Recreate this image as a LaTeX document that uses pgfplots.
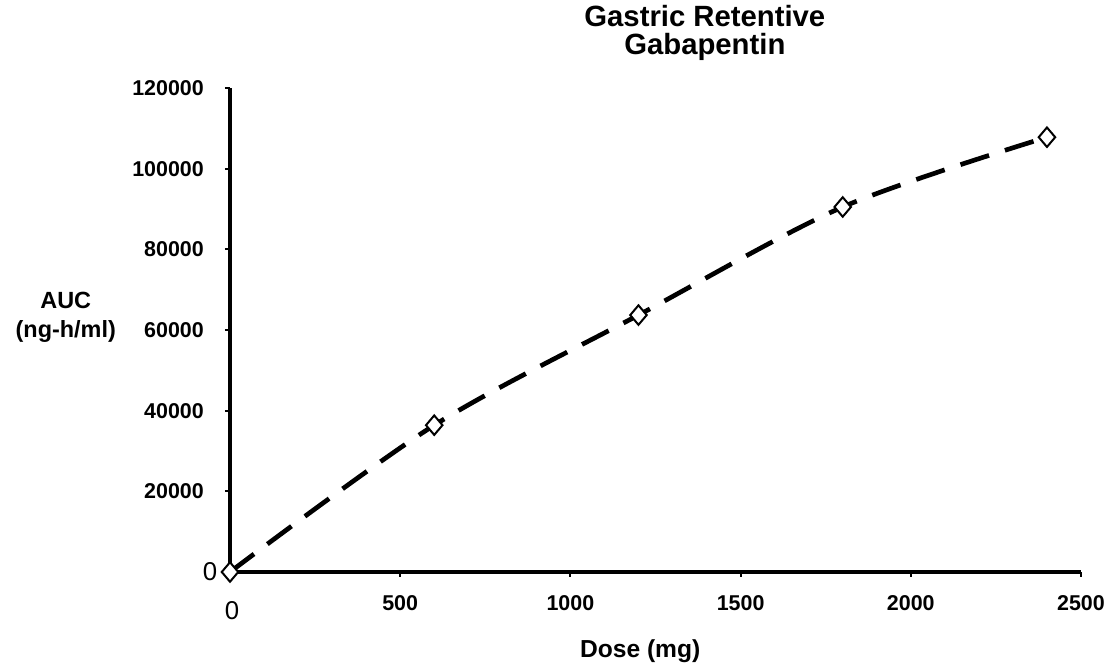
\documentclass[border=0pt]{standalone}
\usepackage{fontspec}
\setmainfont{Liberation Sans}
\usepackage{pgfplots}
\pgfplotsset{compat=1.18}
\begin{document}
\begin{tikzpicture}[x=1cm,y=1cm]
\path[use as bounding box] (-6.9,-2.82) rectangle (26.34,17.16);
\begin{axis}[
  at={(0,0)}, anchor=south west, scale only axis,
  width=25.53cm, height=14.52cm,
  xmin=0, xmax=2500, ymin=0, ymax=120000,
  axis x line=bottom, axis y line=left,
  axis line style={-, line width=1mm},
  xtick={500,1000,1500,2000,2500},
  ytick={20000,40000,60000,80000,100000,120000},
  extra x ticks={0}, extra y ticks={0},
  scaled ticks=false,
  /pgf/number format/.cd, fixed, precision=0, 1000 sep={}, assume math mode=true, /pgfplots/.cd,
  tick label style={font=\bfseries\fontsize{18.3}{20}\selectfont},
  tick align=outside, major tick length=1.5mm,
  tick style={line width=0.6mm, black},
  xticklabel style={yshift=-4.2mm},
  yticklabel style={xshift=-5.1mm},
  extra x tick style={xticklabel style={font=\mdseries\fontsize{22}{24}\selectfont, yshift=-2mm, xshift=0.6mm}},
  extra y tick style={yticklabel style={font=\mdseries\fontsize{22}{24}\selectfont, xshift=4mm}},
  title={Gastric Retentive\\Gabapentin},
  title style={at={(axis description cs:0.558,1.10)}, anchor=center, align=center,
    font=\bfseries\fontsize{25}{24}\selectfont},
  xlabel={Dose (mg)},
  xlabel style={at={(axis description cs:0.482,-0.163)}, anchor=center,
    font=\bfseries\fontsize{21}{24}\selectfont},
  ylabel={AUC\\(ng-h/ml)},
  ylabel style={at={(axis description cs:-0.193,0.527)}, anchor=center, rotate=-90,
    align=center, font=\bfseries\fontsize{20}{24.7}\selectfont},
  clip=false,
]
\addplot[black, line width=1.4mm, dash pattern=on 9mm off 5mm, smooth,
  mark=square*, mark size=1.75mm,
  mark options={solid, fill=white, draw=black, line width=0.6mm, yscale=1.18, rotate=45}]
  coordinates {(0,0) (600,36400) (1200,63700) (1800,90500) (2400,107800)};
\end{axis}
\end{tikzpicture}
\end{document}
